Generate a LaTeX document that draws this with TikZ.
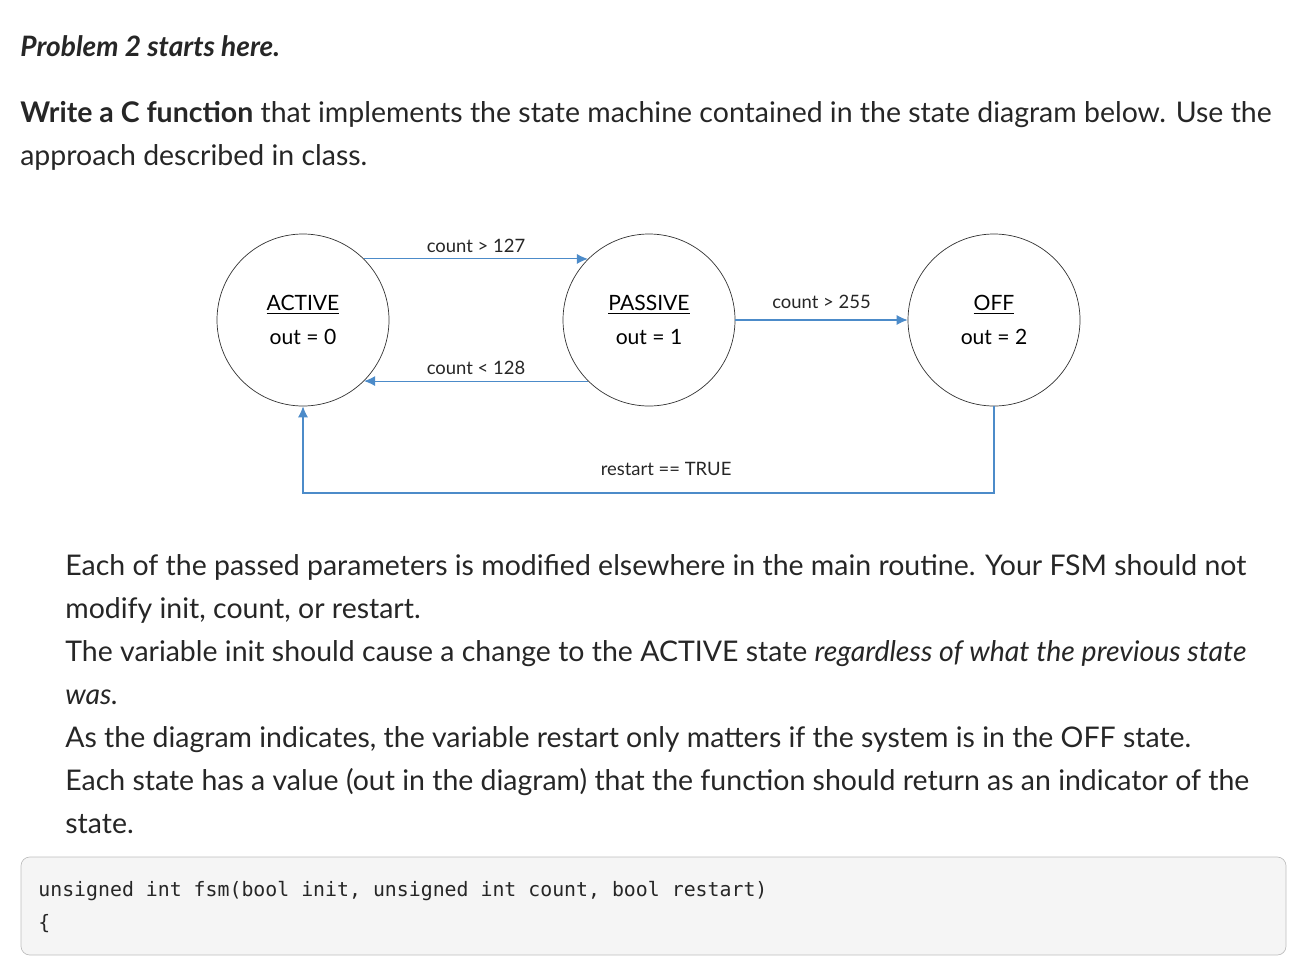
\documentclass[tikz,border=0pt]{standalone}
\usepackage{fontspec}
\setmainfont{Lato}
\setmonofont{DejaVu Sans Mono}
\usetikzlibrary{positioning, arrows.meta, calc}

\begin{document}
\begin{tikzpicture}[
    x=0.02cm, y=-0.02cm,
    % --- styles ---
    state/.style={
            circle,
            draw=black!80,
            minimum size=172*0.02cm,
            inner sep=0pt,
            align=center,
            font=\fontsize{12}{19}\selectfont
        },
    trans/.style={
    -{Latex[length=2.2mm,width=2mm]},
    color=blue!50!cyan!70!black!70,
    semithick
    },
    cond/.style={
            font=\fontsize{10.5}{12}\selectfont,
            color=black!85
        },
    para/.style={
            anchor=base west,
            inner sep=0pt,
            font=\fontsize{16.2}{18}\selectfont,
            color=black!85
        }
    ]
    \useasboundingbox (0,0) rectangle (1307,977);

    % 1. Heading and task text
    \node[para, font=\fontsize{16}{18}\selectfont\itshape\bfseries] (title) at (20,56) {Problem 2 starts here.};
    \node[para] (task1) at (20,122) {\textbf{Write a C function} that implements the state machine contained in the state diagram below. Use the};
    \node[para] (task2) at (20,165) {approach described in class.};

    % 2. States
    \node[state] (active) at (303,320) {\underline{ACTIVE}\\out = 0};
    \node[state] (passive) at (649,320) {\underline{PASSIVE}\\out = 1};
    \node[state] (off) at (994,320) {\underline{OFF}\\out = 2};

    % 3. Transitions
    \draw[trans] (active.45) -- node[cond, above] {count > 127} (passive.135);
    \draw[trans] (passive.-135) -- node[cond, above] {count < 128} (active.-45);
    \draw[trans] (passive.east) -- node[cond, above=3pt] {count > 255} (off.west);
    \coordinate (loopR) at (994,493);
    \coordinate (loopL) at (303,493);
    \draw[trans] (off.south) -- (loopR) -- node[cond, above=6pt, xshift=10pt] {restart == TRUE} (loopL) -- (active.south);

    % 4. Notes
    \node[para] (n1) at (65,575) {Each of the passed parameters is modified elsewhere in the main routine. Your FSM should not};
    \node[para] (n2) at (65,618) {modify init, count, or restart.};
    \node[para] (n3) at (65,661) {The variable init should cause a change to the ACTIVE state \textit{regardless of what the previous state}};
    \node[para] (n4) at (65,704) {\textit{was.}};
    \node[para] (n5) at (65,747) {As the diagram indicates, the variable restart only matters if the system is in the OFF state.};
    \node[para] (n6) at (65,790) {Each state has a value (out in the diagram) that the function should return as an indicator of the};
    \node[para] (n7) at (65,833) {state.};

    % 5. Code box
    \draw[draw=black!25, fill=black!4, rounded corners=5pt] (21,857) rectangle (1286,955);
    \node[para, font=\fontsize{11.3}{12}\ttfamily] (code1) at (38,896) {unsigned int fsm(bool init, unsigned int count, bool restart)};
    \node[para, font=\fontsize{11.3}{12}\ttfamily] (code2) at (38,929) {\{};

\end{tikzpicture}
\end{document}
